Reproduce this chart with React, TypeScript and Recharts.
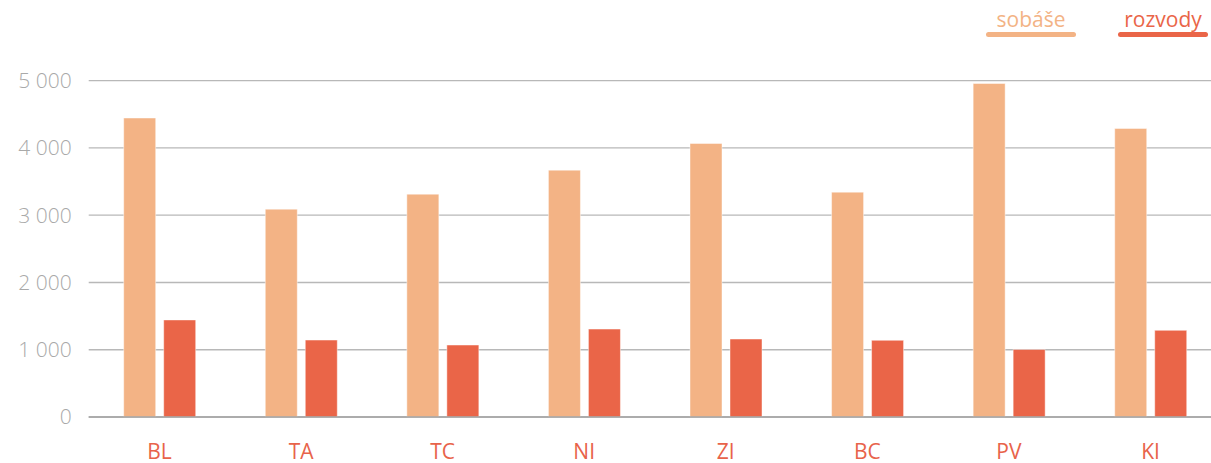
import { BarChart, Bar, XAxis, YAxis, CartesianGrid } from 'recharts';

const regions = ['BL', 'TA', 'TC', 'NI', 'ZI', 'BC', 'PV', 'KI'];
const sobase = [4445, 3090, 3313, 3670, 4067, 3343, 4958, 4290];
const rozvody = [1443, 1144, 1070, 1307, 1159, 1140, 1005, 1288];
const yTicks = [0, 1000, 2000, 3000, 4000, 5000];

const series = [
  { key: 'sobase', name: 'sobáše', color: '#f3b385' },
  { key: 'rozvody', name: 'rozvody', color: '#ea6548' },
];

const data = regions.map((region, i) => ({
  region,
  sobase: sobase[i],
  rozvody: rozvody[i],
}));

const font = '"Open Sans", "DejaVu Sans", sans-serif';

// "5 000" style thousands separator
const formatTick = (v: number) => (v >= 1000 ? `${Math.floor(v / 1000)} ${String(v % 1000).padStart(3, '0')}` : String(v));

function ChartLegend() {
  return (
    <div style={{ position: 'absolute', top: 7, left: 986, display: 'flex', gap: 42, fontFamily: font }}>
      {series.map((s) => (
        <div key={s.key} style={{ width: 90, textAlign: 'center' }}>
          <div style={{ fontSize: 21, lineHeight: '24px', color: s.color }}>{s.name}</div>
          <div style={{ marginTop: 1, height: 5, borderRadius: 3, background: s.color }} />
        </div>
      ))}
    </div>
  );
}

export default function App() {
  return (
    <div style={{ position: 'absolute', left: 0, top: 0, width: 1211, height: 463, overflow: 'hidden', background: '#fff' }}>
      <BarChart
        width={1222}
        height={463}
        data={data}
        margin={{ top: 80.7, right: 0.7, left: 0, bottom: 0 }}
        barSize={32}
        barGap={8}
      >
        <CartesianGrid vertical={false} stroke="#b8b8b8" strokeWidth={1.3} />
        <XAxis
          dataKey="region"
          height={46}
          tickLine={false}
          tickSize={0}
          tickMargin={27}
          axisLine={{ stroke: '#a2a2a2', strokeWidth: 1.3 }}
          tick={{ fill: '#e8634a', fontSize: 21, fontFamily: font }}
        />
        <YAxis
          width={88.7}
          domain={[0, 5000]}
          ticks={yTicks}
          tickFormatter={formatTick}
          axisLine={false}
          tickLine={false}
          tickSize={0}
          tickMargin={17}
          tick={{ fill: '#a9a9a9', fontSize: 21, fontFamily: font, fontWeight: 300 }}
        />
        {series.map((s) => (
          <Bar
            key={s.key}
            dataKey={s.key}
            name={s.name}
            fill={s.color}
            stroke="rgba(255,255,255,0.45)"
            strokeWidth={1}
            isAnimationActive={false}
          />
        ))}
      </BarChart>
      <ChartLegend />
    </div>
  );
}
